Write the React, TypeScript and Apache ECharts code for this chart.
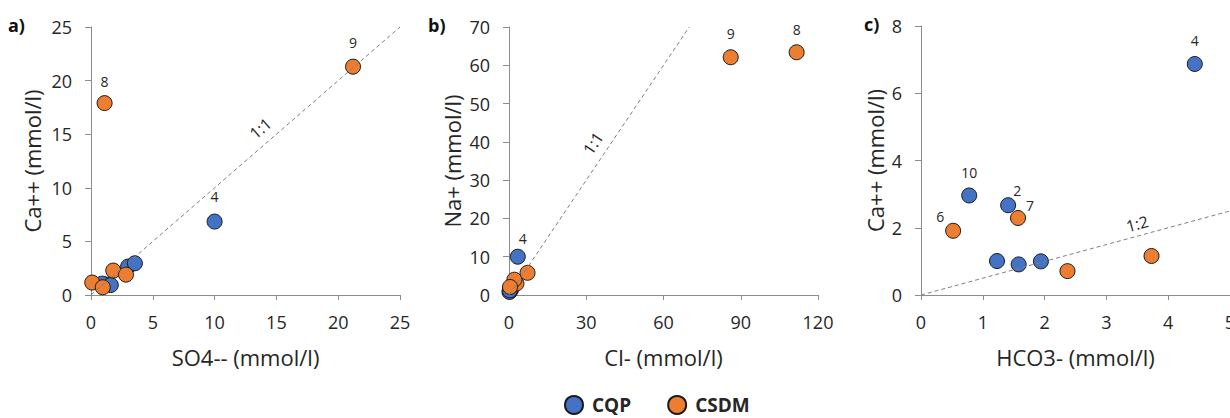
import React, { useEffect, useRef } from "react";
import * as echarts from "echarts";

const FONT = "'Open Sans', 'Noto Sans', sans-serif";
const BLUE = "#4472C4";
const ORANGE = "#ED7D31";
const TEXT = "#262626";
const AXIS = "#8c8c8c";

// Panel a: SO4-- (x) vs Ca++ (y)
const cqpA = [[1.2, 0.98], [0.9, 1.06], [1.6, 0.93], [3.0, 2.65], [3.55, 2.96], [10.0, 6.85]];
const cqpALabels = ["", "", "", "", "", "4"];
const csdmA = [[0.1, 1.16], [0.95, 0.72], [1.8, 2.28], [2.83, 1.9], [1.1, 17.9], [21.2, 21.3]];
const csdmALabels = ["", "", "", "", "8", "9"];

// Panel b: Cl- (x) vs Na+ (y)
const cqpB = [[0.4, 1.0], [0.2, 0.8], [0.8, 1.4], [0.5, 1.6], [0.3, 1.2], [3.4, 10.0]];
const cqpBLabels = ["", "", "", "", "", "4"];
const csdmB = [[2.9, 3.0], [2.1, 4.0], [0.4, 2.1], [7.2, 5.8], [111.7, 63.4], [86.1, 62.1]];
const csdmBLabels = ["", "", "", "", "8", "9"];

// Panel c: HCO3- (x) vs Ca++ (y)
const cqpC = [[1.23, 1.01], [1.58, 0.91], [1.94, 1.0], [0.78, 2.96], [1.41, 2.67], [4.43, 6.87]];
const cqpCLabels = ["", "", "", "10", "2", "4"];
const csdmC = [[0.52, 1.91], [1.57, 2.29], [2.37, 0.71], [3.73, 1.16]];
const csdmCLabels = ["6", "7", "", ""];

// reference lines
const refA = [[0, 0], [25, 25]];
const refB = [[0, 0], [70, 70]];
const refC = [[0, 0], [5, 2.5]];

// axis ticks
const xTicks = [{ min: 0, max: 25, interval: 5 }, { min: 0, max: 120, interval: 30 }, { min: 0, max: 5, interval: 1 }];
const yTicks = [{ min: 0, max: 25, interval: 5 }, { min: 0, max: 70, interval: 10 }, { min: 0, max: 8, interval: 2 }];
const xNames = ["SO4-- (mmol/l)", "Cl- (mmol/l)", "HCO3- (mmol/l)"];
const yNames = ["Ca++ (mmol/l)", "Na+ (mmol/l)", "Ca++ (mmol/l)"];
const panelLetters = ["a)", "b)", "c)"];

// label offsets (style) per panel, keyed by label text
const labelOffsets: Record<string, number[]>[] = [
  { "8": [0, -22], "9": [0, -24], "4": [0, -25] },
  { "8": [0, -23], "9": [0, -24], "4": [5, -18] },
  { "4": [0, -23], "10": [0, -23], "2": [9, -15], "7": [12, -12], "6": [-13, -14] },
];

const grids = [
  { left: 91, top: 27, width: 309, height: 268 },
  { left: 509, top: 27, width: 309, height: 268 },
  { left: 921, top: 26, width: 309, height: 269 },
];
const yNameGaps = [48, 46, 35];
const letterPos = [[8, 16], [428, 16], [864, 15]];

const refLabels = [
  { grid: 0, line: refA, text: "1:1", at: 0.58, off: 15 },
  { grid: 1, line: refB, text: "1:1", at: 0.535, off: 15 },
  { grid: 2, line: refC, text: "1:2", at: 0.71, off: 12 },
];

function pts(data: number[][], labels: string[], panel: number) {
  return data.map((d, i) => {
    const l = labels[i];
    if (!l) return { value: d };
    return {
      value: d,
      label: {
        show: true,
        formatter: l,
        position: "inside",
        offset: labelOffsets[panel][l] || [0, -22],
        color: TEXT,
        fontSize: 14,
        fontFamily: FONT,
      },
    };
  });
}

export default function App() {
  const ref = useRef<HTMLDivElement>(null);
  useEffect(() => {
    if (!ref.current) return;
    const chart = echarts.init(ref.current, undefined, { renderer: "svg" });
    const scatterBase = (name: string, color: string, idx: number, data: any[]) => ({
      name,
      type: "scatter",
      xAxisIndex: idx,
      yAxisIndex: idx,
      symbolSize: 15,
      itemStyle: { color, borderColor: "#1a1a1a", borderWidth: 1, opacity: 1 },
      data,
      z: 2,
    });
    const lineBase = (idx: number, data: number[][]) => ({
      type: "line",
      xAxisIndex: idx,
      yAxisIndex: idx,
      data,
      symbol: "none",
      silent: true,
      lineStyle: { color: "#7f7f7f", width: 1, type: [4, 3] },
      z: 3,
    });
    const option: any = {
      animation: false,
      backgroundColor: "#ffffff",
      textStyle: { fontFamily: FONT },
      legend: {
        data: ["CQP", "CSDM"],
        left: 559,
        top: 390,
        icon: "circle",
        itemWidth: 18,
        itemHeight: 18,
        itemGap: 36,
        textStyle: {
          fontSize: 19,
          fontWeight: "bold",
          color: TEXT,
          fontFamily: FONT,
          padding: [0, 0, 0, 4],
        },
      },
      grid: grids.map((g) => ({ ...g, containLabel: false, outerBoundsMode: "none" })),
      xAxis: xTicks.map((t, i) => ({
        type: "value",
        gridIndex: i,
        ...t,
        name: xNames[i],
        nameLocation: "middle",
        nameGap: 51,
        nameTextStyle: { fontSize: 22, color: TEXT, fontFamily: FONT },
        axisLine: { show: true, lineStyle: { color: AXIS, width: 1 } },
        axisTick: { show: true, inside: false, length: 5, lineStyle: { color: AXIS } },
        axisLabel: { fontSize: 18, color: TEXT, margin: 18, fontFamily: FONT, showMaxLabel: true, hideOverlap: false },
        splitLine: { show: false },
      })),
      yAxis: yTicks.map((t, i) => ({
        type: "value",
        gridIndex: i,
        ...t,
        name: yNames[i],
        nameLocation: "middle",
        nameGap: yNameGaps[i],
        nameTextStyle: { fontSize: 22, color: TEXT, fontFamily: FONT },
        axisLine: { show: true, lineStyle: { color: AXIS, width: 1 } },
        axisTick: { show: true, inside: false, length: 6, lineStyle: { color: AXIS } },
        axisLabel: { fontSize: 18, color: TEXT, margin: 19, fontFamily: FONT },
        splitLine: { show: false },
      })),
      series: [
        scatterBase("CQP", BLUE, 0, pts(cqpA, cqpALabels, 0)),
        scatterBase("CSDM", ORANGE, 0, pts(csdmA, csdmALabels, 0)),
        scatterBase("CQP", BLUE, 1, pts(cqpB, cqpBLabels, 1)),
        scatterBase("CSDM", ORANGE, 1, pts(csdmB, csdmBLabels, 1)),
        scatterBase("CQP", BLUE, 2, pts(cqpC, cqpCLabels, 2)),
        scatterBase("CSDM", ORANGE, 2, pts(csdmC, csdmCLabels, 2)),
        lineBase(0, refA),
        lineBase(1, refB),
        lineBase(2, refC),
      ],
    };
    chart.setOption(option);

    const graphics: any[] = panelLetters.map((t, i) => ({
      type: "text",
      x: letterPos[i][0],
      y: letterPos[i][1],
      style: { text: t, font: `bold 18px ${FONT}`, fill: "#111" },
    }));
    refLabels.forEach((r) => {
      const p0 = chart.convertToPixel({ gridIndex: r.grid } as any, r.line[0]) as number[];
      const p1 = chart.convertToPixel({ gridIndex: r.grid } as any, r.line[1]) as number[];
      const dx = p1[0] - p0[0];
      const dy = p1[1] - p0[1];
      const len = Math.sqrt(dx * dx + dy * dy);
      const nx = dy / len;
      const ny = -dx / len;
      const x = p0[0] + r.at * dx + r.off * nx;
      const y = p0[1] + r.at * dy + r.off * ny;
      graphics.push({
        type: "text",
        x,
        y,
        rotation: Math.atan2(-dy, dx),
        style: { text: r.text, font: `16px ${FONT}`, fill: TEXT, align: "center", verticalAlign: "middle" },
      });
    });
    chart.setOption({ graphic: graphics });
    return () => chart.dispose();
  }, []);
  return (
    <div
      ref={ref}
      style={{ position: "fixed", left: 0, top: 0, width: 1230, height: 418, background: "#fff" }}
    />
  );
}
